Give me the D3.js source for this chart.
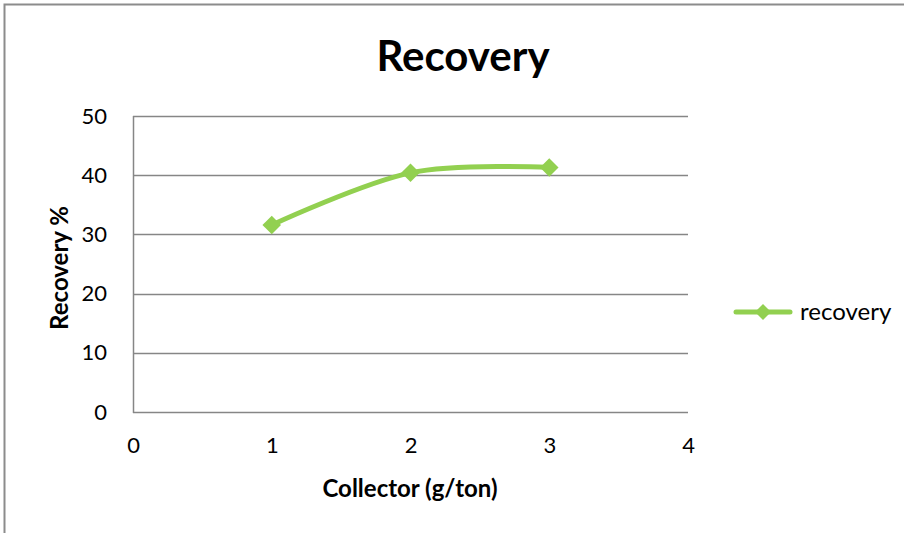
<!DOCTYPE html>
<html>
<head>
<meta charset="utf-8">
<script src="https://cdn.jsdelivr.net/npm/d3@7/dist/d3.min.js"></script>
<style>
  html, body { margin: 0; padding: 0; background: #fff; }
  svg { display: block; font-family: Lato, "Open Sans", sans-serif; }
</style>
</head>
<body>
<svg id="chart" width="904" height="533"></svg>
<script>
// Collector dosage (g/ton) and measured recovery (%)
const collector = [1, 2, 3];
const recovery = [31.6, 40.4, 41.3];
const xTicks = [0, 1, 2, 3, 4];
const yTicks = [0, 10, 20, 30, 40, 50];
const seriesName = "recovery";

const svg = d3.select("#chart");
const W = 904, H = 533;
const plot = { left: 133, right: 688, top: 116, bottom: 412 };
const green = "#92D050";
const gridGray = "#868686";
const font = "Lato, 'Open Sans', sans-serif";

// Outer chart frame (top and left edges)
svg.append("path")
  .attr("d", `M4.5,${H} L4.5,4.5 L${W},4.5`)
  .attr("fill", "none")
  .attr("stroke", "#8c8c8c")
  .attr("stroke-width", 2);

const x = d3.scaleLinear().domain([0, 4]).range([plot.left, plot.right]);
const y = d3.scaleLinear().domain([0, 50]).range([plot.bottom, plot.top]);

// Horizontal gridlines
svg.append("g")
  .selectAll("line")
  .data(yTicks)
  .join("line")
  .attr("x1", plot.left)
  .attr("x2", plot.right)
  .attr("y1", d => Math.round(y(d)) + 0.5)
  .attr("y2", d => Math.round(y(d)) + 0.5)
  .attr("stroke", gridGray)
  .attr("stroke-width", 1.5);

// Vertical axis line
svg.append("line")
  .attr("x1", plot.left + 0.5).attr("x2", plot.left + 0.5)
  .attr("y1", plot.top).attr("y2", plot.bottom + 1)
  .attr("stroke", gridGray)
  .attr("stroke-width", 1.5);

// Y axis tick labels
const yAxis = d3.axisLeft(y).tickValues(yTicks).tickSize(0).tickPadding(0);
const gy = svg.append("g").attr("transform", `translate(${plot.left - 26},0)`).call(yAxis);
gy.select(".domain").remove();
gy.selectAll("text")
  .attr("font-size", 22)
  .attr("font-family", font)
  .attr("fill", "#000");

// X axis tick labels
const xAxis = d3.axisBottom(x).tickValues(xTicks).tickSize(0).tickPadding(0).tickFormat(d3.format("d"));
const gx = svg.append("g").attr("transform", `translate(0,${plot.bottom + 25})`).call(xAxis);
gx.select(".domain").remove();
gx.selectAll("text")
  .attr("font-size", 22)
  .attr("font-family", font)
  .attr("fill", "#000");

// Smoothed series line
const pts = collector.map((c, i) => [c, recovery[i]]);
const line = d3.line()
  .x(d => x(d[0]))
  .y(d => y(d[1]))
  .curve(d3.curveCardinal.tension(0));
svg.append("path")
  .datum(pts)
  .attr("d", line)
  .attr("fill", "none")
  .attr("stroke", green)
  .attr("stroke-width", 5)
  .attr("stroke-linecap", "round");

// Diamond markers
const diamond = d3.symbol().type(d3.symbolDiamond2).size(220);
svg.append("g")
  .selectAll("path")
  .data(pts)
  .join("path")
  .attr("transform", d => `translate(${x(d[0])},${y(d[1])})`)
  .attr("d", diamond)
  .attr("fill", green);

// Title
svg.append("text")
  .attr("x", 463).attr("y", 71)
  .attr("text-anchor", "middle")
  .attr("font-size", 42)
  .attr("font-weight", "bold")
  .text("Recovery");

// Axis titles
svg.append("text")
  .attr("x", 410).attr("y", 497)
  .attr("text-anchor", "middle")
  .attr("font-size", 24)
  .attr("font-weight", "bold")
  .text("Collector (g/ton)");

svg.append("text")
  .attr("transform", `translate(68,${(plot.top + plot.bottom) / 2 + 4}) rotate(-90)`)
  .attr("text-anchor", "middle")
  .attr("font-size", 24)
  .attr("font-weight", "bold")
  .text("Recovery %");

// Legend
const legendDiamond = d3.symbol().type(d3.symbolDiamond2).size(165);
const lg = svg.append("g").attr("transform", "translate(736,312)");
lg.append("line")
  .attr("x1", 0).attr("x2", 54)
  .attr("stroke", green).attr("stroke-width", 5).attr("stroke-linecap", "round");
lg.append("path")
  .attr("transform", "translate(27,0)")
  .attr("d", legendDiamond)
  .attr("fill", green);
lg.append("text")
  .attr("x", 64).attr("y", 7.5)
  .attr("font-size", 24)
  .text(seriesName);
</script>
</body>
</html>
